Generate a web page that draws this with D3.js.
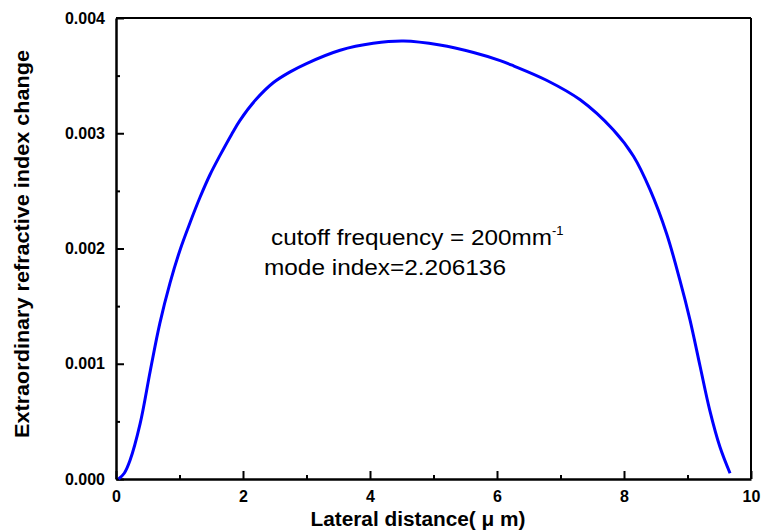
<!DOCTYPE html>
<html>
<head>
<meta charset="utf-8">
<script src="https://d3js.org/d3.v7.min.js"></script>
<style>
  body { margin: 0; background: #fff; }
  svg { display: block; font-family: "Liberation Sans", Arial, sans-serif; }
  .axis text { font-size: 16px; font-weight: bold; fill: #000; }
  .axis path, .axis line { stroke: #000; }
</style>
</head>
<body>
<div id="chart"></div>
<script>
// lateral distance (um) and index change
const xVals = [0.04, 0.13, 0.22, 0.38, 0.54, 0.69, 0.85, 1.01, 1.17, 1.32, 1.48, 1.64, 1.82,
    1.95, 2.2, 2.48, 2.75, 3.0, 3.53, 4.05, 4.53, 5.1, 5.63, 6.05, 6.26, 6.78, 7.31, 7.83,
    8.15, 8.41, 8.67, 8.88, 9.04, 9.2, 9.35, 9.51, 9.67];
const yVals = [0.0, 0.00005, 0.00016, 0.00048, 0.00094, 0.00135, 0.0017, 0.00199, 0.00223,
    0.00244, 0.00264, 0.00281, 0.00299, 0.00311, 0.00329, 0.00344, 0.003535, 0.003605,
    0.00372, 0.00378, 0.0038, 0.003765, 0.0037, 0.00363, 0.003585, 0.00346, 0.00329,
    0.00303, 0.0028, 0.00251, 0.00213, 0.001726, 0.001379, 0.000974,
    0.000598, 0.00028, 0.00005];

const xMajor = [0, 2, 4, 6, 8, 10];
const xMinor = [1, 3, 5, 7, 9];
const yMajor = [0, 0.001, 0.002, 0.003, 0.004];
const yMinor = [0.0005, 0.0015, 0.0025, 0.0035];

const xTitle = "Lateral distance( \u03bc m)";
const yTitle = "Extraordinary refractive index change";
const noteLine1 = "cutoff frequency = 200mm";
const noteSup = "-1";
const noteLine2 = "mode index=2.206136";

const boxWidth = 762, boxHeight = 531;
const margins = { l: 116, t: 18, r: 11, b: 52 };
const chartWidth = boxWidth - margins.l - margins.r;
const chartHeight = boxHeight - margins.t - margins.b;

const svg = d3.select("#chart").append("svg")
    .attr("width", boxWidth)
    .attr("height", boxHeight);

const g = svg.append("g")
    .attr("transform", `translate(${margins.l},${margins.t})`);

const x = d3.scaleLinear().domain([0, 10]).range([0, chartWidth]);
const y = d3.scaleLinear().domain([0, 0.004]).range([chartHeight, 0]);

// frame top and right
g.append("line")
    .attr("x1", 0).attr("x2", chartWidth).attr("y1", 0).attr("y2", 0)
    .attr("stroke", "#000").attr("stroke-width", 2);
g.append("line")
    .attr("x1", chartWidth).attr("x2", chartWidth).attr("y1", 0).attr("y2", chartHeight)
    .attr("stroke", "#000").attr("stroke-width", 2);

// minor ticks
g.append("g")
    .attr("class", "axis")
    .attr("transform", `translate(0,${chartHeight})`)
    .call(d3.axisBottom(x).tickValues(xMinor).tickFormat("").tickSize(-4).tickSizeOuter(0))
    .call(a => a.select(".domain").remove())
    .selectAll("line").attr("stroke-width", 2);
g.append("g")
    .attr("class", "axis")
    .call(d3.axisLeft(y).tickValues(yMinor).tickFormat("").tickSize(-4).tickSizeOuter(0))
    .call(a => a.select(".domain").remove())
    .selectAll("line").attr("stroke-width", 2);

// major axes
const xAxis = g.append("g")
    .attr("class", "axis")
    .attr("transform", `translate(0,${chartHeight})`)
    .call(d3.axisBottom(x).tickValues(xMajor).tickFormat(d3.format("d"))
        .tickSize(-8).tickSizeOuter(0).tickPadding(12));
xAxis.select(".domain").attr("stroke-width", 2.5);
xAxis.selectAll("line").attr("stroke-width", 2);

const yAxis = g.append("g")
    .attr("class", "axis")
    .call(d3.axisLeft(y).tickValues(yMajor).tickFormat(d3.format(".3f"))
        .tickSize(-8).tickSizeOuter(0).tickPadding(11));
yAxis.select(".domain").attr("stroke-width", 2.5);
yAxis.selectAll("line").attr("stroke-width", 2);

// curve
const line = d3.line()
    .x(d => x(d[0]))
    .y(d => y(d[1]))
    .curve(d3.curveCatmullRom.alpha(0.5));

g.append("path")
    .datum(d3.zip(xVals, yVals))
    .attr("fill", "none")
    .attr("stroke", "#0000ff")
    .attr("stroke-width", 3)
    .attr("d", line);

// axis titles
svg.append("text")
    .attr("x", 418).attr("y", 526)
    .attr("text-anchor", "middle")
    .attr("font-size", 20).attr("font-weight", "bold")
    .attr("textLength", 215).attr("lengthAdjust", "spacingAndGlyphs")
    .text(xTitle);

svg.append("text")
    .attr("transform", "translate(29,244) rotate(-90)")
    .attr("text-anchor", "middle")
    .attr("font-size", 20).attr("font-weight", "bold")
    .attr("textLength", 388).attr("lengthAdjust", "spacingAndGlyphs")
    .text(yTitle);

// annotation
const note = svg.append("text")
    .attr("x", 271).attr("y", 245)
    .attr("font-size", 22);
note.append("tspan")
    .attr("textLength", 281).attr("lengthAdjust", "spacingAndGlyphs")
    .text(noteLine1);
note.append("tspan")
    .attr("font-size", 13).attr("dy", -10)
    .text(noteSup);

svg.append("text")
    .attr("x", 264).attr("y", 275)
    .attr("font-size", 22)
    .attr("textLength", 242).attr("lengthAdjust", "spacingAndGlyphs")
    .text(noteLine2);
</script>
</body>
</html>
